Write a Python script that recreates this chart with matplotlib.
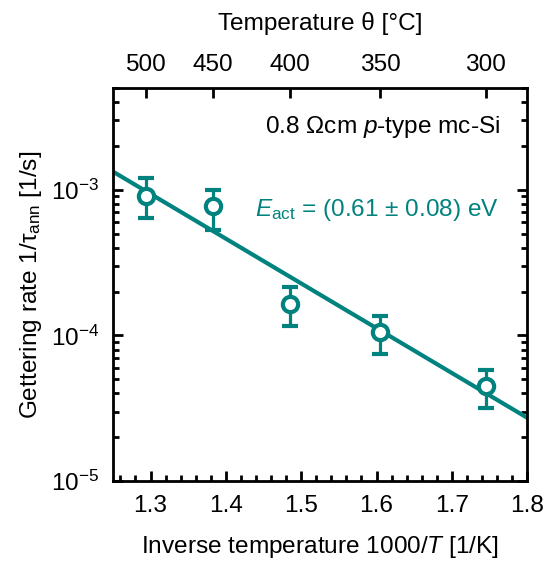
import numpy as np
import matplotlib
matplotlib.use("Agg")
import matplotlib.pyplot as plt
from matplotlib.ticker import LogLocator, MultipleLocator, NullFormatter, FixedLocator

plt.rcParams['font.family'] = ['Liberation Sans', 'DejaVu Sans']
plt.rcParams['mathtext.fontset'] = 'custom'
plt.rcParams['mathtext.rm'] = 'Liberation Sans'
plt.rcParams['mathtext.it'] = 'Liberation Sans:italic'
plt.rcParams['mathtext.bf'] = 'Liberation Sans:bold'

# data
theta_C = [500, 450, 400, 350, 300]
rate = [9.1e-4, 7.7e-4, 1.65e-4, 1.05e-4, 4.5e-5]
err_hi = [1.2e-3, 1.0e-3, 2.14e-4, 1.37e-4, 5.8e-5]
err_lo = [6.4e-4, 5.3e-4, 1.16e-4, 7.4e-5, 3.15e-5]
E_act = 0.61          # eV
prefactor = 9.3       # 1/s
k_B = 8.617e-5        # eV/K
top_ticks = [500, 450, 400, 350, 300]
ylabels_exp = [-5, -4, -3]

teal = '#00827F'
FS = 17.6

inv_T = 1000.0 / (np.array(theta_C) + 273.15)
rate = np.array(rate)
yerr = np.vstack([rate - np.array(err_lo), np.array(err_hi) - rate])

fig = plt.figure(figsize=(5.48, 5.63), dpi=100)
ax = fig.add_axes([0.206, 0.1456, 0.756, 0.698])

xfit = np.linspace(1.25, 1.8, 200)
yfit = prefactor * np.exp(-E_act / (k_B * 1000.0 / xfit))
ax.plot(xfit, yfit, color=teal, lw=3.0, zorder=2)

ax.errorbar(inv_T, rate, yerr=yerr, fmt='o', ms=11, mfc='white', mec=teal,
            mew=3.0, ecolor=teal, elinewidth=2.3, capsize=5.5, capthick=2.3, zorder=3)

ax.set_yscale('log')
ax.set_xlim(1.25, 1.8)
ax.set_ylim(1e-5, 5e-3)

ax.xaxis.set_major_locator(MultipleLocator(0.1))
ax.xaxis.set_minor_locator(MultipleLocator(0.02))
ax.yaxis.set_major_locator(FixedLocator([10.0**e for e in ylabels_exp]))
ax.set_yticklabels([r'$10^{%d}$' % e for e in ylabels_exp])
ax.yaxis.set_minor_locator(LogLocator(base=10, subs=np.arange(2, 10), numticks=20))
ax.yaxis.set_minor_formatter(NullFormatter())

ax.tick_params(which='both', direction='in', top=False, right=True, labelsize=FS,
               width=2.0)
ax.tick_params(axis='x', pad=10)
ax.tick_params(axis='y', pad=10)
ax.tick_params(which='major', length=7)
ax.tick_params(which='minor', length=4)
for s in ax.spines.values():
    s.set_linewidth(2.0)

ax2 = ax.twiny()
ax2.set_xlim(ax.get_xlim())
ax2.set_xticks(1000.0 / (np.array(top_ticks) + 273.15))
ax2.set_xticklabels([str(t) for t in top_ticks])
ax2.tick_params(which='major', direction='in', length=7, width=2.0, labelsize=FS, pad=9)
ax2.set_xlabel('Temperature θ [°C]', fontsize=FS, labelpad=17)

ax.set_xlabel('Inverse temperature 1000/$\\it{T}$ [1/K]', fontsize=FS, labelpad=12)
ax.set_ylabel('Gettering rate 1/τ$_{\\mathrm{ann}}$ [1/s]', fontsize=FS, labelpad=5)

ax.text(0.935, 0.90, '0.8 Ωcm $\\it{p}$-type mc-Si', transform=ax.transAxes,
        ha='right', va='center', fontsize=FS, color='black')
ax.text(0.343, 0.69, r'$E_{\mathrm{act}}$ = (0.61 ± 0.08) eV', transform=ax.transAxes,
        ha='left', va='center', fontsize=FS, color=teal)

fig.savefig('out.png', dpi=100)
